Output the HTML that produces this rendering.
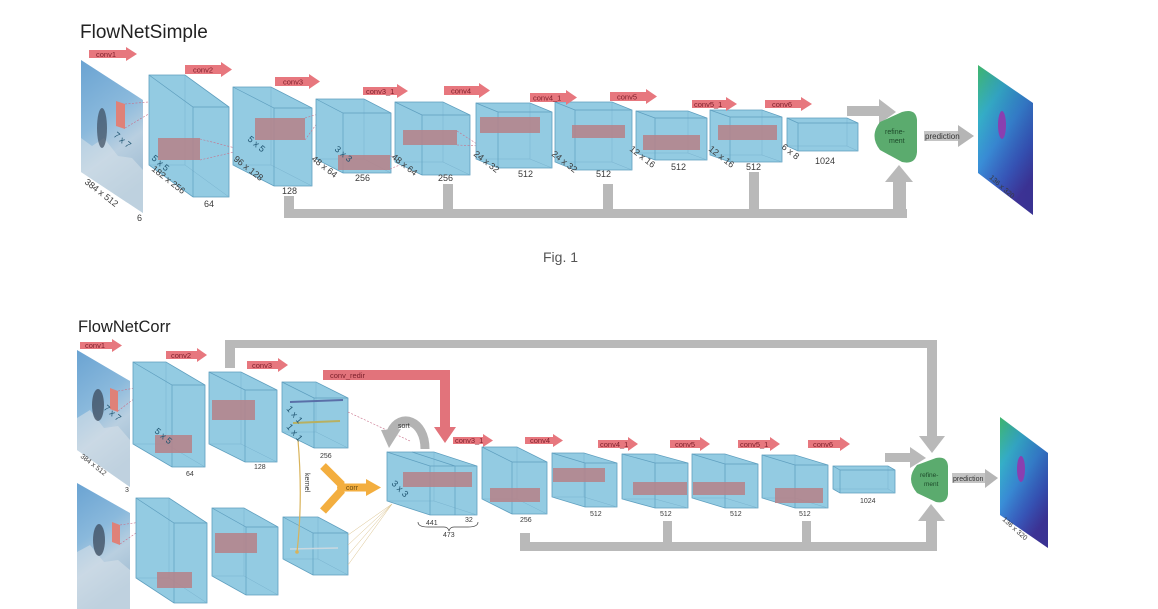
<!DOCTYPE html>
<html><head><meta charset="utf-8">
<style>
html,body{margin:0;padding:0;background:#fff;}
svg{display:block;}
text{font-family:"Liberation Sans",sans-serif;}
.cb{fill:#93cbe2;stroke:#5f9fbf;stroke-width:0.8;}
.ed{fill:none;stroke:#5f9fbf;stroke-width:0.7;}
.hd{fill:none;stroke:#79b3cf;stroke-width:0.5;}
.rr{fill:#b5838a;opacity:0.88;}
.ca{fill:#e7777e;}
.ct{fill:#7e1f2b;font-size:7.5px;}
.gy{fill:#b9b9b9;}
.lb{fill:#3a3a3a;font-size:9px;}
.ls{fill:#3a3a3a;font-size:7px;}
.tl{fill:#1f5470;font-size:9px;}
.dl{fill:none;stroke:#c8708a;stroke-width:0.6;stroke-dasharray:2 1.5;}
</style></head><body>
<svg width="1158" height="609" viewBox="0 0 1158 609" xmlns="http://www.w3.org/2000/svg">
<defs>
<linearGradient id="inimg" x1="0" y1="0" x2="0.3" y2="1">
 <stop offset="0" stop-color="#6aa3d2"/>
 <stop offset="0.45" stop-color="#8ab9dc"/>
 <stop offset="0.7" stop-color="#b9cfe0"/>
 <stop offset="1" stop-color="#9fbcd2"/>
</linearGradient>
<linearGradient id="outimg" x1="0" y1="0" x2="0.5" y2="1">
 <stop offset="0" stop-color="#3fb56c"/>
 <stop offset="0.3" stop-color="#35b0c8"/>
 <stop offset="0.55" stop-color="#3a8fd8"/>
 <stop offset="0.8" stop-color="#3c5cc0"/>
 <stop offset="1" stop-color="#46359a"/>
</linearGradient>
<linearGradient id="outdark" x1="0" y1="0" x2="1" y2="0">
 <stop offset="0" stop-color="#1a2a80" stop-opacity="0"/>
 <stop offset="1" stop-color="#1a2a80" stop-opacity="0.3"/>
</linearGradient>
</defs>
<rect width="1158" height="609" fill="#fff"/>

<!-- ================= TOP: FlowNetSimple ================= -->
<text x="80" y="38" font-size="19" fill="#222">FlowNetSimple</text>

<!-- skip connections -->
<rect class="gy" x="284" y="196" width="10" height="22"/>
<rect class="gy" x="443" y="184" width="10" height="30"/>
<rect class="gy" x="603" y="184" width="10" height="30"/>
<rect class="gy" x="749" y="172" width="10" height="42"/>
<rect class="gy" x="284" y="209" width="623" height="9"/>
<rect class="gy" x="893" y="181" width="13" height="37"/>
<polygon class="gy" points="885,182 913,182 899,165"/>
<!-- arrow to refinement -->
<rect class="gy" x="847" y="106" width="34" height="10"/>
<polygon class="gy" points="879,99 896,112 879,124"/>

<!-- input image -->
<polygon points="81,60 143,100 143,213 81,172" fill="url(#inimg)"/>
<polygon points="81,138 92,146 104,138 118,156 132,158 143,170 143,213 81,172" fill="#d3dfe8" opacity="0.6"/>
<ellipse cx="102" cy="128" rx="5" ry="20" fill="#3b4a5c" opacity="0.7"/>
<polygon points="116,101 125,104 125,129 116,126" fill="#df8178"/>
<path class="dl" d="M125,104L172,100M125,128L172,100"/>

<!-- C2 -->
<polygon class="cb" points="149,75 185,75 229,107 229,197 193,197 149,165"/>
<path class="hd" d="M185,75V165H149M185,165L229,197"/>
<path class="ed" d="M149,75L193,107H229M193,107V197"/>
<rect class="rr" x="158" y="138" width="42" height="22"/>
<path class="dl" d="M200,139L243,150M200,160L243,150"/>
<!-- C3 -->
<polygon class="cb" points="233,87 271,87 312,108 312,186 274,186 233,165"/>
<path class="hd" d="M271,87V165H233M271,165L312,186"/>
<path class="ed" d="M233,87L274,108H312M274,108V186"/>
<rect class="rr" x="255" y="118" width="50" height="22"/>
<path class="dl" d="M305,118L325,112M305,140L325,112"/>
<!-- C4 -->
<polygon class="cb" points="316,99 364,99 391,113 391,173 343,173 316,159"/>
<path class="hd" d="M364,99V159H316M364,159L391,173"/>
<path class="ed" d="M316,99L343,113H391M343,113V173"/>
<rect class="rr" x="338" y="155" width="52" height="15"/>
<path class="dl" d="M390,156L414,159M390,169L414,159"/>
<!-- C5 -->
<polygon class="cb" points="395,102 443,102 470,115 470,175 422,175 395,162"/>
<path class="hd" d="M443,102V162H395M443,162L470,175"/>
<path class="ed" d="M395,102L422,115H470M422,115V175"/>
<rect class="rr" x="403" y="130" width="54" height="15"/>
<path class="dl" d="M457,131L480,146M457,145L480,146"/>
<!-- C6 -->
<polygon class="cb" points="476,103 530,103 552,112 552,168 498,168 476,159"/>
<path class="hd" d="M530,103V159H476M530,159L552,168"/>
<path class="ed" d="M476,103L498,112H552M498,112V168"/>
<rect class="rr" x="480" y="117" width="60" height="16"/>
<!-- C7 -->
<polygon class="cb" points="555,102 612,102 632,110 632,170 575,170 555,162"/>
<path class="hd" d="M612,102V162H555M612,162L632,170"/>
<path class="ed" d="M555,102L575,110H632M575,110V170"/>
<rect class="rr" x="572" y="125" width="53" height="13"/>
<!-- C8 -->
<polygon class="cb" points="636,111 688,111 707,118 707,160 655,160 636,153"/>
<path class="hd" d="M688,111V153H636M688,153L707,160"/>
<path class="ed" d="M636,111L655,118H707M655,118V160"/>
<rect class="rr" x="643" y="135" width="57" height="15"/>
<!-- C9 -->
<polygon class="cb" points="710,110 762,110 782,117 782,162 730,162 710,155"/>
<path class="hd" d="M762,110V155H710M762,155L782,162"/>
<path class="ed" d="M710,110L730,117H782M730,117V162"/>
<rect class="rr" x="718" y="125" width="59" height="15"/>
<!-- C10 -->
<polygon class="cb" points="787,118 847,118 858,123 858,151 798,151 787,146"/>
<path class="hd" d="M847,118V146H787M847,146L858,151"/>
<path class="ed" d="M787,118L798,123H858M798,123V151"/>

<!-- conv arrows top -->
<polygon class="ca" points="89,50 126,50 126,47 137,54 126,61 126,58 89,58"/><text class="ct" x="96" y="57">conv1</text>
<polygon class="ca" points="185,65 221,65 221,62 232,69.5 221,77 221,74 185,74"/><text class="ct" x="193" y="72.5">conv2</text>
<polygon class="ca" points="275,77 309,77 309,74 320,81.5 309,89 309,86 275,86"/><text class="ct" x="283" y="84.5">conv3</text>
<polygon class="ca" points="363,87 397,87 397,84 408,91 397,98 397,95 363,95"/><text class="ct" x="366" y="94">conv3_1</text>
<polygon class="ca" points="444,86 479,86 479,83 490,90.5 479,98 479,95 444,95"/><text class="ct" x="451" y="93.5">conv4</text>
<polygon class="ca" points="530,93 566,93 566,90 577,97.5 566,105 566,102 530,102"/><text class="ct" x="533" y="100.5">conv4_1</text>
<polygon class="ca" points="610,92 646,92 646,89 657,96.5 646,104 646,101 610,101"/><text class="ct" x="617" y="99.5">conv5</text>
<polygon class="ca" points="692,100 726,100 726,97 737,104 726,111 726,108 692,108"/><text class="ct" x="694" y="107">conv5_1</text>
<polygon class="ca" points="765,100 801,100 801,97 812,104 801,111 801,108 765,108"/><text class="ct" x="772" y="107">conv6</text>

<!-- top labels -->
<text class="tl" transform="translate(113,136) rotate(40)">7 x 7</text>
<text class="lb" transform="translate(84,183) rotate(38)">384 x 512</text>
<text class="lb" x="137" y="221">6</text>
<text class="tl" transform="translate(151,159) rotate(40)">5 x 5</text>
<text class="lb" transform="translate(151,170) rotate(38)">182 x 256</text>
<text class="lb" x="204" y="207">64</text>
<text class="lb" transform="translate(233,160) rotate(38)">96 x 128</text>
<text class="tl" font-size="11" transform="translate(247,140) rotate(40)">5 x 5</text>
<text class="lb" x="282" y="194">128</text>
<text class="tl" font-size="10" transform="translate(334,150) rotate(40)">3 x 3</text>
<text class="lb" transform="translate(311,160) rotate(38)">48 x 64</text>
<text class="lb" x="355" y="181">256</text>
<text class="lb" transform="translate(391,158) rotate(38)">48 x 64</text>
<text class="lb" x="438" y="181">256</text>
<text class="lb" transform="translate(473,155) rotate(38)">24 x 32</text>
<text class="lb" x="518" y="177">512</text>
<text class="lb" transform="translate(551,155) rotate(38)">24 x 32</text>
<text class="lb" x="596" y="177">512</text>
<text class="lb" transform="translate(629,150) rotate(38)">12 x 16</text>
<text class="lb" x="671" y="170">512</text>
<text class="lb" transform="translate(708,150) rotate(38)">12 x 16</text>
<text class="lb" x="746" y="170">512</text>
<text class="lb" transform="translate(781,148) rotate(38)">6 x 8</text>
<text class="lb" x="815" y="164">1024</text>

<!-- refinement top -->
<path d="M880,122 L902,112 Q916,108 917,120 L917,152 Q916,165 902,162 L880,150 Q869,136 880,122 Z" fill="#5bab6e"/>
<text x="885" y="134" font-size="7" fill="#1d4a2a">refine-</text>
<text x="889" y="143" font-size="7" fill="#1d4a2a">ment</text>
<!-- prediction top -->
<rect x="924" y="131" width="36" height="10" fill="#c4c4c4"/>
<polygon points="958,125 974,136 958,147" fill="#b5b5b5"/>
<text x="925" y="139" font-size="8" fill="#333">prediction</text>
<!-- output image top -->
<polygon points="978,65 1033,103 1033,215 978,173" fill="url(#outimg)"/>
<polygon points="978,65 1033,103 1033,215 978,173" fill="url(#outdark)"/>
<ellipse cx="1002" cy="125" rx="4" ry="14" fill="#8a3fb0"/>
<text class="ls" font-size="8" transform="translate(989,178) rotate(42)">136 x 320</text>

<text x="543" y="262" font-size="14" fill="#555">Fig. 1</text>

<!-- ================= BOTTOM: FlowNetCorr ================= -->
<text x="78" y="332" font-size="16.5" fill="#222">FlowNetCorr</text>

<!-- top skip -->
<rect class="gy" x="225" y="340" width="10" height="28"/>
<rect class="gy" x="225" y="340" width="712" height="8"/>
<rect class="gy" x="927" y="340" width="10" height="97"/>
<polygon class="gy" points="919,436 945,436 932,453"/>
<!-- bottom skip -->
<rect class="gy" x="520" y="533" width="10" height="18"/>
<rect class="gy" x="663" y="521" width="9" height="25"/>
<rect class="gy" x="802" y="521" width="9" height="25"/>
<rect class="gy" x="520" y="542" width="417" height="9"/>
<rect class="gy" x="926" y="520" width="11" height="31"/>
<polygon class="gy" points="918,521 945,521 931,504"/>
<!-- J to refine -->
<rect class="gy" x="885" y="453" width="27" height="9"/>
<polygon class="gy" points="910,447 926,458 910,468"/>

<!-- input images -->
<polygon points="77,350 130,381 130,487 77,450" fill="url(#inimg)"/>
<polygon points="77,418 90,410 104,428 118,426 130,440 130,487 77,450" fill="#d5e0e8" opacity="0.6"/>
<ellipse cx="98" cy="405" rx="6" ry="16" fill="#3b4a5c" opacity="0.75"/>
<polygon points="110,388 118,391 118,412 110,409" fill="#df8178"/>
<polygon points="77,483 130,513 130,609 77,609" fill="url(#inimg)"/>
<polygon points="77,552 90,545 104,562 118,560 130,570 130,609 77,609" fill="#d5e0e8" opacity="0.6"/>
<ellipse cx="99" cy="540" rx="6" ry="16" fill="#3b4a5c" opacity="0.75"/>
<polygon points="112,522 120,525 120,545 112,542" fill="#df8178"/>
<path class="dl" d="M118,391L152,385M118,411L152,385M120,525L155,520M120,544L155,520"/>

<!-- A1 -->
<polygon class="cb" points="133,362 166,362 205,385 205,467 172,467 133,444"/>
<path class="hd" d="M166,362V444H133M166,444L205,467"/>
<path class="ed" d="M133,362L172,385H205M172,385V467"/>
<rect class="rr" x="155" y="435" width="37" height="18"/>
<!-- B1 -->
<polygon class="cb" points="209,372 241,372 277,390 277,462 245,462 209,444"/>
<path class="hd" d="M241,372V444H209M241,444L277,462"/>
<path class="ed" d="M209,372L245,390H277M245,390V462"/>
<rect class="rr" x="212" y="400" width="43" height="20"/>
<!-- C1 -->
<polygon class="cb" points="282,382 316,382 348,398 348,448 314,448 282,432"/>
<path class="hd" d="M316,382V432H282M316,432L348,448"/>
<path class="ed" d="M282,382L314,398H348M314,398V448"/>
<line x1="290" y1="402" x2="343" y2="400" stroke="#5a6fa8" stroke-width="2"/>
<line x1="293" y1="423" x2="340" y2="421" stroke="#b8b060" stroke-width="2"/>
<!-- A2 -->
<polygon class="cb" points="136,498 169,498 207,523 207,603 174,603 136,578"/>
<path class="hd" d="M169,498V578H136M169,578L207,603"/>
<path class="ed" d="M136,498L174,523H207M174,523V603"/>
<rect class="rr" x="157" y="572" width="35" height="16"/>
<!-- B2 -->
<polygon class="cb" points="212,508 244,508 278,527 278,595 246,595 212,576"/>
<path class="hd" d="M244,508V576H212M244,576L278,595"/>
<path class="ed" d="M212,508L246,527H278M246,527V595"/>
<rect class="rr" x="215" y="533" width="42" height="20"/>
<!-- C2 -->
<polygon class="cb" points="283,517 318,517 348,533 348,575 313,575 283,559"/>
<path class="hd" d="M318,517V559H283M318,559L348,575"/>
<path class="ed" d="M283,517L313,533H348M313,533V575"/>
<line x1="290" y1="549" x2="338" y2="548" stroke="#c9d8e0" stroke-width="1.5"/>

<!-- kernel -->
<path d="M298,440 Q303,500 297,552" fill="none" stroke="#d9b35a" stroke-width="1.2"/>
<circle cx="297" cy="552" r="1.8" fill="#d9b35a"/>
<text class="ls" font-size="6.5" transform="translate(305,473) rotate(90)">kernel</text>

<!-- corr -->
<path d="M323,466 L342,485 M323,511 L342,490 M338,487.5 L368,487.5" fill="none" stroke="#f3ae3f" stroke-width="8"/>
<circle cx="342" cy="487.5" r="5" fill="#f3ae3f"/>
<polygon points="366,479 381,487.5 366,496" fill="#f3ae3f"/>
<text x="346" y="490" font-size="7" fill="#6a4a10">corr</text>

<!-- dashed to D -->
<path class="dl" d="M348,412L410,441"/>
<path d="M348,535L392,504M348,545L392,504M348,555L392,504M348,565L392,504" stroke="#d9c08a" stroke-width="0.5" fill="none"/>

<!-- sort -->
<path d="M425,449 C425,420 400,412 391,432" fill="none" stroke="#b3b3b3" stroke-width="9"/>
<polygon points="381,430 401,429 389,448" fill="#b3b3b3"/>
<text x="398" y="428" font-size="7" fill="#333">sort</text>

<!-- conv_redir -->
<polygon points="323,370 450,370 450,427 456,427 445,443 434,427 440,427 440,380 323,380" fill="#e2737b"/>
<text x="330" y="378" font-size="7.5" fill="#7a1f2a">conv_redir</text>

<!-- D -->
<polygon class="cb" points="387,452 434,452 477,466 477,515 430,515 387,501"/>
<path class="hd" d="M434,452V501H387M434,501L477,515"/>
<path class="ed" d="M387,452L430,466H477M430,466V515M455,466V515M412,452L455,466"/>
<rect class="rr" x="403" y="472" width="69" height="15"/>
<!-- E -->
<polygon class="cb" points="482,447 517,447 547,462 547,514 512,514 482,499"/>
<path class="hd" d="M517,447V499H482M517,499L547,514"/>
<path class="ed" d="M482,447L512,462H547M512,462V514"/>
<rect class="rr" x="490" y="488" width="50" height="14"/>
<!-- F -->
<polygon class="cb" points="552,453 584,453 617,463 617,507 585,507 552,497"/>
<path class="hd" d="M584,453V497H552M584,497L617,507"/>
<path class="ed" d="M552,453L585,463H617M585,463V507"/>
<rect class="rr" x="553" y="468" width="52" height="14"/>
<!-- G -->
<polygon class="cb" points="622,454 655,454 688,463 688,508 655,508 622,499"/>
<path class="hd" d="M655,454V499H622M655,499L688,508"/>
<path class="ed" d="M622,454L655,463H688M655,463V508"/>
<rect class="rr" x="633" y="482" width="54" height="13"/>
<!-- H -->
<polygon class="cb" points="692,454 725,454 758,464 758,508 725,508 692,498"/>
<path class="hd" d="M725,454V498H692M725,498L758,508"/>
<path class="ed" d="M692,454L725,464H758M725,464V508"/>
<rect class="rr" x="693" y="482" width="52" height="13"/>
<!-- I -->
<polygon class="cb" points="762,455 795,455 828,465 828,508 795,508 762,498"/>
<path class="hd" d="M795,455V498H762M795,498L828,508"/>
<path class="ed" d="M762,455L795,465H828M795,465V508"/>
<rect class="rr" x="775" y="488" width="48" height="15"/>
<!-- J -->
<polygon class="cb" points="833,466 888,466 895,470 895,493 840,493 833,489"/>
<path class="hd" d="M888,466V489H833M888,489L895,493"/>
<path class="ed" d="M833,466L840,470H895M840,470V493"/>

<!-- conv arrows bottom -->
<polygon class="ca" points="80,342 112,342 112,339 122,345.5 112,352 112,349 80,349"/><text class="ct" font-size="6.5" x="85" y="348">conv1</text>
<polygon class="ca" points="166,351 197,351 197,348 207,355 197,362 197,359 166,359"/><text class="ct" font-size="6.5" x="171" y="358">conv2</text>
<polygon class="ca" points="247,361 278,361 278,358 288,365 278,372 278,369 247,369"/><text class="ct" font-size="6.5" x="252" y="368">conv3</text>
<polygon class="ca" points="453,437 483,437 483,434 493,440.5 483,447 483,444 453,444"/><text class="ct" font-size="6.5" x="455" y="443">conv3_1</text>
<polygon class="ca" points="525,437 553,437 553,434 563,440.5 553,447 553,444 525,444"/><text class="ct" font-size="6.5" x="530" y="443">conv4</text>
<polygon class="ca" points="598,440 628,440 628,437 638,444 628,451 628,448 598,448"/><text class="ct" font-size="6.5" x="600" y="447">conv4_1</text>
<polygon class="ca" points="670,440 700,440 700,437 710,444 700,451 700,448 670,448"/><text class="ct" font-size="6.5" x="675" y="447">conv5</text>
<polygon class="ca" points="738,440 770,440 770,437 780,444 770,451 770,448 738,448"/><text class="ct" font-size="6.5" x="740" y="447">conv5_1</text>
<polygon class="ca" points="808,440 840,440 840,437 850,444 840,451 840,448 808,448"/><text class="ct" font-size="6.5" x="813" y="447">conv6</text>

<!-- bottom labels -->
<text class="tl" font-size="7" transform="translate(103,409) rotate(40)">7 x 7</text>
<text class="ls" font-size="8" transform="translate(80,457) rotate(38)">384 x 512</text>
<text class="ls" font-size="8" x="125" y="492">3</text>
<text class="tl" font-size="7" transform="translate(154,432) rotate(40)">5 x 5</text>
<text class="ls" font-size="8" x="186" y="476">64</text>
<text class="ls" x="254" y="469">128</text>
<text class="tl" font-size="7" transform="translate(286,409) rotate(50)">1 x 1</text>
<text class="tl" font-size="7" transform="translate(286,427) rotate(50)">1 x 1</text>
<text class="ls" x="320" y="458">256</text>
<text class="tl" font-size="8" transform="translate(391,484) rotate(45)">3 x 3</text>
<text class="ls" x="426" y="525">441</text>
<text class="ls" x="465" y="522">32</text>
<path d="M418,522 Q418,527 428,527 L444,527 Q448,527 449,531 Q450,527 454,527 L468,527 Q478,527 478,522" fill="none" stroke="#444" stroke-width="0.7"/>
<text class="ls" x="443" y="537">473</text>
<text class="ls" x="520" y="522">256</text>
<text class="ls" x="590" y="516">512</text>
<text class="ls" x="660" y="516">512</text>
<text class="ls" x="730" y="516">512</text>
<text class="ls" x="799" y="516">512</text>
<text class="ls" x="860" y="503">1024</text>

<!-- refinement bottom -->
<path d="M917,465 L936,458 Q947,456 948,466 L948,494 Q947,504 936,502 L917,493 Q905,479 917,465 Z" fill="#5bab6e"/>
<text x="920" y="477" font-size="6.5" fill="#1d4a2a">refine-</text>
<text x="924" y="486" font-size="6.5" fill="#1d4a2a">ment</text>
<!-- prediction bottom -->
<rect x="952" y="473" width="35" height="10" fill="#c4c4c4"/>
<polygon points="985,469 998,478 985,488" fill="#b5b5b5"/>
<text x="953" y="481" font-size="7" fill="#333">prediction</text>
<!-- output image bottom -->
<polygon points="1000,417 1048,453 1048,548 1000,515" fill="url(#outimg)"/>
<polygon points="1000,417 1048,453 1048,548 1000,515" fill="url(#outdark)"/>
<ellipse cx="1021" cy="469" rx="4" ry="13" fill="#8a3fb0"/>
<text class="ls" transform="translate(1002,520) rotate(42)">136 x 320</text>
</svg>
</body></html>
